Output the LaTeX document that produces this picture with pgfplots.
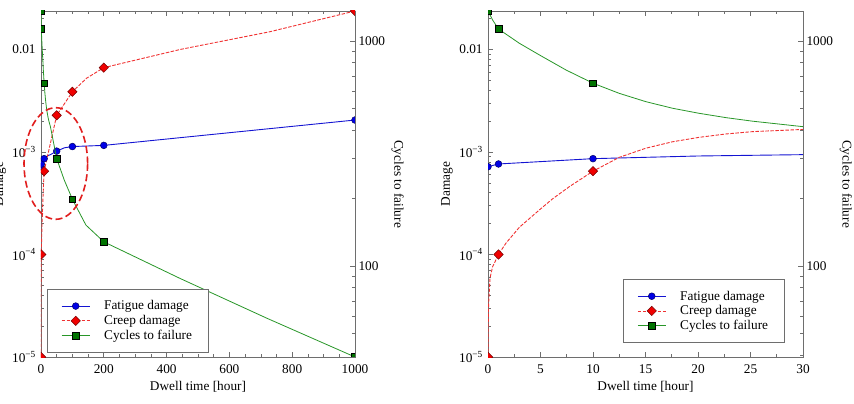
\documentclass[border=0pt]{standalone}
\usepackage{fontspec}
\setmainfont{Liberation Serif}
\usepackage{pgfplots}
\pgfplotsset{compat=1.18}

\definecolor{fblue}{RGB}{20,20,210}
\definecolor{fbluefill}{RGB}{0,0,230}
\definecolor{cred}{RGB}{240,50,50}
\definecolor{credfill}{RGB}{240,0,0}
\definecolor{cgreen}{RGB}{40,150,40}
\definecolor{cgreenfill}{RGB}{0,115,0}
\definecolor{framec}{RGB}{110,110,110}
\definecolor{ellc}{RGB}{225,30,30}

\pgfplotsset{
  fat/.style={fblue, line width=0.9pt, mark=*, mark size=3.4pt,
    mark options={solid, fill=fbluefill, draw=black!60!blue, line width=0.5pt}},
  creep/.style={cred, line width=0.9pt, dash pattern=on 3.5pt off 1.5pt, mark=square*, mark size=3.3pt,
    mark options={solid, rotate=45, fill=credfill, draw=black!55!red, line width=0.5pt}},
  cyc/.style={cgreen, line width=0.8pt, mark=square*, mark size=3.3pt,
    mark options={solid, fill=cgreenfill, draw=black, line width=0.5pt}},
  mybase/.style={
    scale only axis, height=346pt,
    tick align=inside,
    axis line style={framec, line width=0.8pt},
    every tick/.style={framec, line width=0.6pt},
    major tick length=5pt, minor tick length=3pt,
    font=\fontsize{13.3}{16}\selectfont,
    clip marker paths=true,
    xticklabel style={yshift=-4pt},
  },
  mylefty/.style={
    ytick={1e-5,1e-4,1e-3,1e-2},
    yticklabels={10\textsuperscript{−5},10\textsuperscript{−4},10\textsuperscript{−3},0.01},
    yticklabel style={anchor=center, xshift=-17pt},
    minor ytick={2e-5,3e-5,4e-5,5e-5,6e-5,7e-5,8e-5,9e-5,2e-4,3e-4,4e-4,5e-4,6e-4,7e-4,8e-4,9e-4,2e-3,3e-3,4e-3,5e-3,6e-3,7e-3,8e-3,9e-3,2e-2},
    ytick pos=left, xtick pos=both,
    ylabel={Damage},
    every axis y label/.style={at={(axis description cs:-0.130,0.5)}, anchor=center, rotate=90},
    xlabel={Dwell time [hour]},
    every axis x label/.style={at={(axis description cs:0.5,-0.087)}, anchor=center},
  },
  myrighty/.style={
    axis y line*=right, axis x line=none,
    ytick={100,1000}, yticklabels={100,1000},
    minor ytick={40,50,60,70,80,90,200,300,400,500,600,700,800,900},
    ylabel={Cycles to failure},
    every axis y label/.style={at={(axis description cs:1.136,0.5)}, anchor=center, rotate=-90},
    legend image code/.code={\draw[mark repeat=2,mark phase=2,##1] plot coordinates {(0pt,0pt) (14pt,0pt) (28pt,0pt)};},
    legend style={draw=framec, line width=0.6pt, fill=white, inner xsep=14pt, inner ysep=9.5pt,
      nodes={inner sep=2pt}, column sep=12pt, row sep=0pt, cells={anchor=west},
      font=\fontsize{13.3}{16}\selectfont},
  },
}

\begin{document}
\begin{tikzpicture}
% ---------------- left panel ----------------
\begin{axis}[mybase, mylefty, ymode=log, ymin=1e-5, ymax=0.02374,
  at={(41pt,47pt)}, anchor=south west, width=314pt,
  xmin=0, xmax=1000, xtick={0,200,400,600,800,1000}, xticklabels={0,200,400,600,800,1000}, minor x tick num=3]
\addplot[fat, mark=none] coordinates {(0,7.19e-4) (1,7.64e-4) (10,8.61e-4) (20,9.14e-4) (30,9.42e-4) (50,1.02e-3) (75,1.10e-3) (100,1.13e-3) (200,1.16e-3) (1000,2.05e-3)};
\addplot[creep, mark=none] coordinates {(0,1e-5) (0.02,2e-5) (0.06,3.3e-5) (0.19,5.9e-5) (0.44,7.6e-5) (1,1e-4) (1.71,1.29e-4) (2.98,1.84e-4) (4.89,2.72e-4) (6.16,3.5e-4) (7.75,4.59e-4) (10,6.5e-4) (50,2.28e-3) (100,3.87e-3) (145,5.24e-3) (200,6.65e-3) (443,1.0e-2) (729,1.49e-2) (1000,2.374e-2)};
\addplot[fat, only marks] coordinates {(0,7.19e-4) (1,7.64e-4) (10,8.61e-4) (50,1.02e-3) (100,1.13e-3) (200,1.16e-3) (1000,2.05e-3)};
\addplot[creep, only marks] coordinates {(0,1e-5) (1,1e-4) (10,6.5e-4) (50,2.28e-3) (100,3.87e-3) (200,6.65e-3) (1000,2.374e-2)};
\end{axis}
\begin{axis}[mybase, myrighty, ymode=log, ymin=39.4, ymax=1359,
  at={(41pt,47pt)}, anchor=south west, width=314pt,
  xmin=0, xmax=1000,
  legend style={at={(axis description cs:0.019,0.012)}, anchor=south west}]
\addplot[cyc, mark=none, forget plot] coordinates {(0,1359) (0.44,1239) (1,1130) (2.98,977) (4.89,867) (7.43,743) (10,649) (12.5,585) (15.05,537) (17.6,502) (20.1,477) (22.7,456) (25.2,440) (30,416) (50,300) (74,241) (100,198) (143,152) (200,128) (443,88) (719,58.6) (1000,39.4)};
\addplot[cyc, only marks, forget plot] coordinates {(0,1359) (1,1130) (10,649) (50,300) (100,198) (200,128) (1000,39.4)};
\addlegendimage{fat}\addlegendentry{Fatigue damage}
\addlegendimage{creep}\addlegendentry{Creep damage}
\addlegendimage{cyc}\addlegendentry{Cycles to failure}
\end{axis}
% ---------------- right panel ----------------
\begin{axis}[mybase, mylefty, ymode=log, ymin=1e-5, ymax=0.02374,
  at={(488pt,47pt)}, anchor=south west, width=315pt,
  xmin=0, xmax=30, xtick={0,5,10,15,20,25,30}, xticklabels={0,5,10,15,20,25,30}, minor x tick num=1]
\addplot[fat, mark=none] coordinates {(0,7.19e-4) (1,7.64e-4) (10,8.61e-4) (20,9.14e-4) (30,9.42e-4)};
\addplot[creep, mark=none] coordinates {(0,1e-5) (0.02,2e-5) (0.06,3.3e-5) (0.19,5.9e-5) (0.44,7.6e-5) (1,1e-4) (1.71,1.29e-4) (2.98,1.84e-4) (4.89,2.72e-4) (6.16,3.5e-4) (7.75,4.59e-4) (10,6.5e-4) (12.5,8.87e-4) (15.05,1.09e-3) (17.6,1.26e-3) (20.1,1.39e-3) (22.7,1.50e-3) (25.2,1.58e-3) (30,1.66e-3)};
\addplot[fat, only marks] coordinates {(0,7.19e-4) (1,7.64e-4) (10,8.61e-4)};
\addplot[creep, only marks] coordinates {(0,1e-5) (1,1e-4) (10,6.5e-4)};
\end{axis}
\begin{axis}[mybase, myrighty, ymode=log, ymin=39.4, ymax=1359,
  at={(488pt,47pt)}, anchor=south west, width=315pt,
  xmin=0, xmax=30,
  legend style={at={(axis description cs:0.4286,0.0405)}, anchor=south west}]
\addplot[cyc, mark=none, forget plot] coordinates {(0,1359) (0.44,1239) (1,1130) (2.98,977) (4.89,867) (7.43,743) (10,649) (12.5,585) (15.05,537) (17.6,502) (20.1,477) (22.7,456) (25.2,440) (30,416)};
\addplot[cyc, only marks, forget plot] coordinates {(0,1359) (1,1130) (10,649)};
\addlegendimage{fat}\addlegendentry{Fatigue damage}
\addlegendimage{creep}\addlegendentry{Creep damage}
\addlegendimage{cyc}\addlegendentry{Cycles to failure}
\end{axis}
% annotation ellipse
\draw[ellc, line width=1.6pt, dash pattern=on 7pt off 3.5pt] (55.8pt,240.5pt) ellipse [x radius=31.8pt, y radius=55.8pt];
\pgfresetboundingbox
\path[use as bounding box] (0,0) rectangle (854pt,404pt);
\end{tikzpicture}
\end{document}
